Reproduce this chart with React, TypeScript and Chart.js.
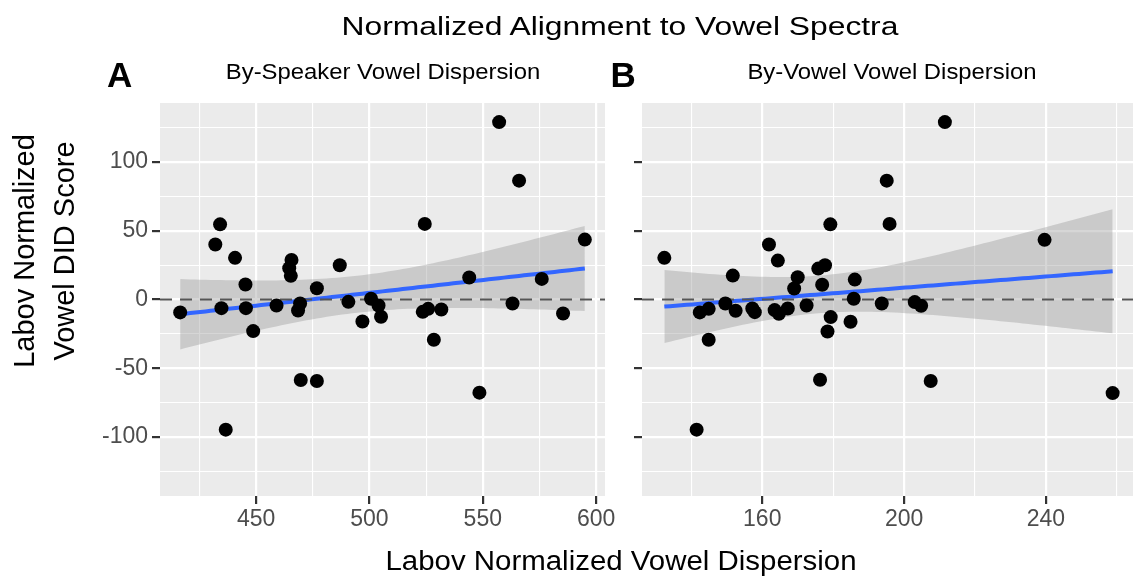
import React, { useEffect, useRef } from "react";
import { Chart, registerables } from "chart.js";

Chart.register(...registerables);

// ---------- data ----------
const speakerDispersion = [
  557.2, 566, 434.1, 432, 440.7, 465.6, 464.6, 465.3, 486.9, 524.4, 544, 576, 595,
  445.3, 476.8, 416.5, 434.7, 445.5, 448.7, 459, 469.4, 468.5, 490.7, 500.7, 504,
  505.1, 496.9, 523.5, 525.9, 531.7, 528.4, 563.1, 585.4, 469.7, 476.8, 548.5, 436.6,
];
const speakerDID = [
  129.1, 86.5, 54.7, 40, 30.3, 28.8, 22.8, 17.2, 24.9, 55, 16, 15, 43.6,
  10.9, 8.2, -9.4, -6.3, -6.3, -23, -4.4, -2.9, -8, -1.7, 0.5, -4.4,
  -12.6, -16, -9, -6.8, -7.3, -29.3, -2.9, -10.2, -58.6, -59.3, -67.8, -94.7,
];
const vowelDispersion = [
  211.5, 195.1, 179.2, 195.9, 239.6, 161.9, 132.4, 164.4, 175.8, 177.7, 151.7, 170, 186.1,
  176.9, 169, 142.4, 144.9, 149.6, 152.5, 157.2, 157.9, 163.5, 164.7, 167.2, 172.5,
  185.8, 179.3, 184.9, 178.4, 193.7, 203, 204.8, 144.9, 176.3, 207.5, 258.8, 141.5,
];
const vowelDID = [
  129.1, 86.5, 54.7, 55, 43.4, 40, 30.3, 28.3, 22.5, 24.9, 17.4, 16.2, 14.5,
  10.7, 8, -9.4, -6.8, -2.9, -8.2, -6.5, -9.2, -7.7, -10.4, -6.5, -4.4,
  0.5, -12.8, -16.2, -23.3, -2.9, -1.9, -4.6, -29.3, -58.4, -59.3, -68.1, -94.7,
];

const yMajorTicks = [-100, -50, 0, 50, 100];
const yMinorTicks = [-125, -75, -25, 25, 75, 125];
const speakerMajorTicks = [450, 500, 550, 600];
const speakerMinorTicks = [425, 475, 525, 575];
const vowelMajorTicks = [160, 200, 240];
const vowelMinorTicks = [140, 180, 220, 260];

const yLimits = [-143, 143];
const speakerLimits = [407.6, 603.9];
const vowelLimits = [126.1, 265.1];

const mainTitle = "Normalized Alignment to Vowel Spectra";
const leftStrip = "By-Speaker Vowel Dispersion";
const rightStrip = "By-Vowel Vowel Dispersion";
const xTitle = "Labov Normalized Vowel Dispersion";
const yTitle = ["Labov Normalized", "Vowel DID Score"];

const T_QUANTILE = 2.0301; // t(0.975, df = 35)
const FONT = '"Liberation Sans", Arial, Helvetica, sans-serif';

// linear model fit with 95% confidence band (like geom_smooth(method = "lm"))
function lmBand(xs: number[], ys: number[], steps = 80) {
  const n = xs.length;
  const xbar = xs.reduce((a, b) => a + b, 0) / n;
  const ybar = ys.reduce((a, b) => a + b, 0) / n;
  let sxx = 0;
  let sxy = 0;
  for (let i = 0; i < n; i++) {
    sxx += (xs[i] - xbar) ** 2;
    sxy += (xs[i] - xbar) * (ys[i] - ybar);
  }
  const b = sxy / sxx;
  const a = ybar - b * xbar;
  let sse = 0;
  for (let i = 0; i < n; i++) sse += (ys[i] - (a + b * xs[i])) ** 2;
  const s = Math.sqrt(sse / (n - 2));
  const xmin = Math.min(...xs);
  const xmax = Math.max(...xs);
  const fit: { x: number; y: number }[] = [];
  const upper: { x: number; y: number }[] = [];
  const lower: { x: number; y: number }[] = [];
  for (let k = 0; k <= steps; k++) {
    const x = xmin + ((xmax - xmin) * k) / steps;
    const yh = a + b * x;
    const se = s * Math.sqrt(1 / n + (x - xbar) ** 2 / sxx);
    fit.push({ x, y: yh });
    upper.push({ x, y: yh + T_QUANTILE * se });
    lower.push({ x, y: yh - T_QUANTILE * se });
  }
  return { fit, upper, lower };
}

const panelBg = {
  id: "panelBg",
  beforeDraw(chart: any) {
    const { ctx, chartArea: a } = chart;
    ctx.save();
    ctx.fillStyle = "#EBEBEB";
    ctx.fillRect(a.left, a.top, a.right - a.left, a.bottom - a.top);
    ctx.restore();
  },
};

type PanelProps = {
  xs: number[];
  ys: number[];
  xLimits: number[];
  xMajor: number[];
  xMinor: number[];
  showYLabels: boolean;
  width: number;
  yAxisWidth: number;
  padRight: number;
  left: number;
};

function Panel(p: PanelProps) {
  const ref = useRef<HTMLCanvasElement | null>(null);
  useEffect(() => {
    if (!ref.current) return;
    const band = lmBand(p.xs, p.ys);
    const gridWidth = (major: number[]) => (c: any) =>
      c.tick && major.includes(c.tick.value) ? 2.2 : 1.1;
    const tickCol = (major: number[]) => (c: any) =>
      c.tick && major.includes(c.tick.value) ? "#333333" : "rgba(0,0,0,0)";
    const chart = new Chart(ref.current, {
      type: "scatter",
      data: {
        datasets: [
          {
            type: "scatter",
            data: p.xs.map((x, i) => ({ x, y: p.ys[i] })),
            pointRadius: 7,
            pointHoverRadius: 7,
            backgroundColor: "#000000",
            borderWidth: 0,
            borderColor: "rgba(0,0,0,0)",
          },
          {
            type: "line",
            data: [
              { x: p.xLimits[0], y: 0 },
              { x: p.xLimits[1], y: 0 },
            ],
            borderColor: "#555555",
            borderWidth: 2.2,
            borderDash: [12, 8],
            pointRadius: 0,
            fill: false,
          },
          {
            type: "line",
            data: band.fit,
            borderColor: "#3366FF",
            borderWidth: 4,
            pointRadius: 0,
            fill: false,
          },
          {
            type: "line",
            data: band.upper,
            borderColor: "rgba(0,0,0,0)",
            borderWidth: 0,
            pointRadius: 0,
            backgroundColor: "rgba(153,153,153,0.4)",
            fill: "+1",
          },
          {
            type: "line",
            data: band.lower,
            borderColor: "rgba(0,0,0,0)",
            borderWidth: 0,
            pointRadius: 0,
            fill: false,
          },
        ] as any,
      },
      options: {
        animation: false,
        responsive: false,
        events: [],
        layout: { padding: { top: 103, right: p.padRight, left: 0, bottom: 0 } },
        plugins: {
          legend: { display: false },
          tooltip: { enabled: false },
          title: { display: false },
        },
        scales: {
          x: {
            type: "linear",
            min: p.xLimits[0],
            max: p.xLimits[1],
            afterBuildTicks: (s: any) => {
              s.ticks = [...p.xMajor, ...p.xMinor]
                .sort((a, b) => a - b)
                .map((v) => ({ value: v }));
            },
            afterFit: (s: any) => {
              s.height = 81;
              s.paddingLeft = 0;
              s.paddingRight = 0;
            },
            ticks: {
              autoSkip: false,
              maxRotation: 0,
              padding: 1.5,
              color: "#4D4D4D",
              font: { size: 23, family: FONT },
              callback: (v: any) => (p.xMajor.includes(v) ? String(v) : ""),
            },
            grid: {
              color: "#FFFFFF",
              lineWidth: gridWidth(p.xMajor),
              tickColor: tickCol(p.xMajor),
              tickLength: 8,
              tickWidth: 2.2,
            },
            border: { display: false },
          },
          y: {
            type: "linear",
            min: yLimits[0],
            max: yLimits[1],
            afterBuildTicks: (s: any) => {
              s.ticks = [...yMajorTicks, ...yMinorTicks]
                .sort((a, b) => a - b)
                .map((v) => ({ value: v }));
            },
            afterFit: (s: any) => {
              s.width = p.yAxisWidth;
              s.paddingTop = 0;
              s.paddingBottom = 0;
            },
            ticks: {
              autoSkip: false,
              padding: 4,
              color: "#4D4D4D",
              font: { size: 23, family: FONT },
              callback: (v: any) =>
                p.showYLabels && yMajorTicks.includes(v) ? String(v) : "",
            },
            title: { display: false },
            grid: {
              color: "#FFFFFF",
              lineWidth: gridWidth(yMajorTicks),
              tickColor: tickCol(yMajorTicks),
              tickLength: 8,
              tickWidth: 2.2,
            },
            border: { display: false },
          },
        },
      } as any,
      plugins: [panelBg],
    });
    return () => chart.destroy();
  }, []);
  return (
    <canvas
      ref={ref}
      width={p.width}
      height={577}
      style={{ position: "absolute", left: p.left, top: 0, width: p.width, height: 577 }}
    />
  );
}

function Label(props: {
  text: string;
  cx?: number;
  left?: number;
  top: number;
  size: number;
  sx?: number;
  bold?: boolean;
}) {
  const centered = props.cx !== undefined;
  return (
    <div
      style={{
        position: "absolute",
        left: centered ? props.cx : props.left,
        top: props.top,
        fontFamily: FONT,
        fontSize: props.size,
        lineHeight: `${props.size}px`,
        fontWeight: props.bold ? "bold" : "normal",
        color: "#000",
        whiteSpace: "nowrap",
        transform: centered
          ? `translateX(-50%) scaleX(${props.sx ?? 1})`
          : `scaleX(${props.sx ?? 1})`,
        transformOrigin: centered ? "center" : "left",
      }}
    >
      {props.text}
    </div>
  );
}

function VLabel(props: { text: string; cx: number; cy: number; size: number }) {
  return (
    <div
      style={{
        position: "absolute",
        left: props.cx,
        top: props.cy,
        fontFamily: FONT,
        fontSize: props.size,
        lineHeight: `${props.size}px`,
        color: "#000",
        whiteSpace: "nowrap",
        transform: "translate(-50%, -50%) rotate(-90deg)",
        transformOrigin: "center",
      }}
    >
      {props.text}
    </div>
  );
}

export default function App() {
  return (
    <div
      style={{
        position: "fixed",
        left: 0,
        top: 0,
        width: 1133,
        height: 577,
        overflow: "hidden",
        background: "#FFFFFF",
      }}
    >
      <Panel
        xs={speakerDispersion}
        ys={speakerDID}
        xLimits={speakerLimits}
        xMajor={speakerMajorTicks}
        xMinor={speakerMinorTicks}
        showYLabels={true}
        width={620}
        yAxisWidth={160}
        padRight={15}
        left={0}
      />
      <Panel
        xs={vowelDispersion}
        ys={vowelDID}
        xLimits={vowelLimits}
        xMajor={vowelMajorTicks}
        xMinor={vowelMinorTicks}
        showYLabels={false}
        width={522}
        yAxisWidth={22}
        padRight={0}
        left={620}
      />
      <Label text={mainTitle} cx={620} top={12.5} size={26.5} sx={1.2} />
      <Label text="A" left={107} top={57} size={35} bold />
      <Label text="B" left={610.5} top={57} size={35} bold />
      <Label text={leftStrip} cx={382.5} top={60.7} size={22} sx={1.085} />
      <Label text={rightStrip} cx={891.5} top={60.7} size={22} sx={1.085} />
      <Label text={xTitle} cx={621} top={548} size={27} sx={1.09} />
      <VLabel text={yTitle[0]} cx={23.5} cy={251} size={29} />
      <VLabel text={yTitle[1]} cx={64} cy={251} size={29} />
    </div>
  );
}
